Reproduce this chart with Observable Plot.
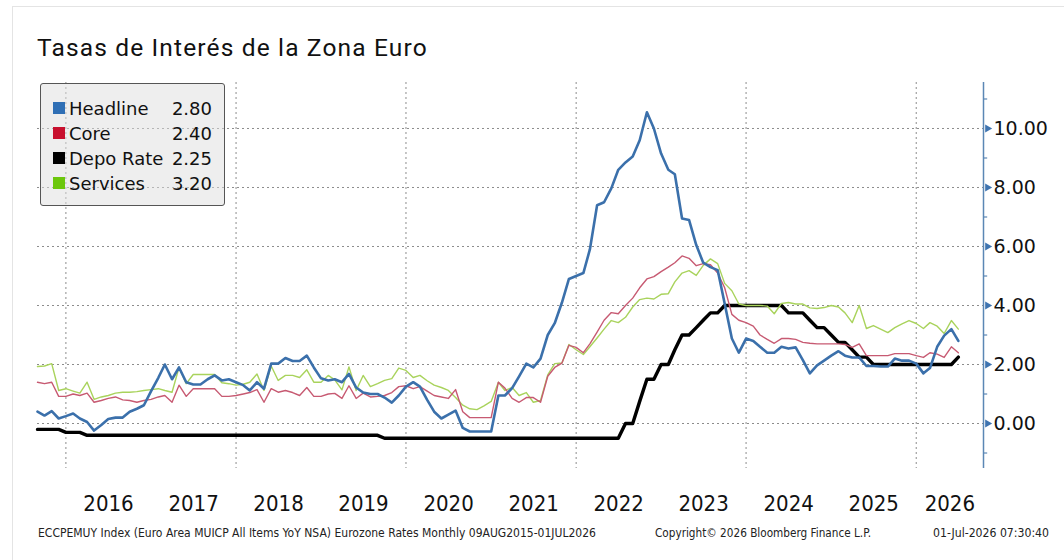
<!DOCTYPE html>
<html>
<head>
<meta charset="utf-8">
<script src="https://cdn.jsdelivr.net/npm/d3@7"></script>
<script src="https://cdn.jsdelivr.net/npm/@observablehq/plot@0.6"></script>
<style>
  body { margin: 0; background: #fff; }
  #wrap { position: relative; width: 1064px; height: 560px; overflow: hidden; background: #fff; }
  #card { position: absolute; left: 12px; top: 6px; width: 1070px; height: 600px;
          border-left: 1px solid #e4e4e4; border-top: 1px solid #e4e4e4; }
  #title { position: absolute; left: 37px; top: 36px; font-family: Roboto, sans-serif; font-size: 24.5px;
           letter-spacing: 1.15px; line-height: 24px; color: #111; white-space: nowrap; }
  #chart { position: absolute; left: 0; top: 0; }
  #legend { position: absolute; left: 40px; top: 83px; width: 183px; height: 121px;
            background: rgba(222,222,222,0.5); border: 1px solid #555; border-radius: 3px;
            font-family: "DejaVu Sans", sans-serif; font-size: 18px; color: #111; }
  .row { position: absolute; left: 0; width: 183px; height: 25px; line-height: 25px; }
  .sw { position: absolute; left: 12px; top: 6px; width: 12px; height: 12px; }
  .lab { position: absolute; left: 28px; top: 0; white-space: nowrap; }
  .val { position: absolute; right: 12px; top: 0; }
  #footer { position: absolute; left: 0; top: 0; }
</style>
</head>
<body>
<div id="wrap">
  <div id="card"></div>
  <div id="chart"></div>
  <div id="title"></div>
  <div id="legend"></div>
  <svg id="footer" width="1064" height="560"></svg>
</div>
<script>
// ---- Data (monthly, Sep 2015 .. Jul 2026) ----
const titleText = "Tasas de Interés de la Zona Euro";

const headline = [
  0.40, 0.27, 0.42, 0.17,
  0.25, 0.34, 0.17, 0.05, -0.24, -0.05, 0.15, 0.20, 0.20, 0.40, 0.50, 0.62,
  1.10, 1.55, 2.00, 1.50, 1.90, 1.40, 1.32, 1.32, 1.50, 1.63, 1.46, 1.50,
  1.40, 1.30, 1.12, 1.40, 1.18, 2.03, 2.03, 2.22, 2.12, 2.12, 2.30, 1.90,
  1.53, 1.46, 1.50, 1.40, 1.68, 1.22, 1.05, 1.00, 1.00, 0.88, 0.71, 0.95,
  1.25, 1.40, 1.25, 0.80, 0.40, 0.17, 0.30, 0.44, -0.15, -0.27, -0.27, -0.27,
  -0.27, 0.95, 0.95, 1.20, 1.60, 2.03, 1.90, 2.20, 3.00, 3.40, 4.10, 4.90,
  5.00, 5.10, 5.90, 7.40, 7.50, 7.97, 8.60, 8.85, 9.05, 9.60, 10.55, 10.00,
  9.15, 8.60, 8.45, 6.95, 6.90, 6.05, 5.45, 5.30, 5.20, 4.07, 2.88, 2.40,
  2.88, 2.80, 2.60, 2.40, 2.40, 2.60, 2.54, 2.58, 2.15, 1.70, 1.97, 2.13,
  2.30, 2.45, 2.30, 2.24, 2.24, 1.95, 1.95, 1.93, 1.93, 2.20, 2.13, 2.13,
  2.03, 1.70, 1.88, 2.60, 2.98, 3.20, 2.80
];

const core = [
  1.40, 1.35, 1.40, 0.92,
  0.92, 1.00, 0.95, 1.03, 0.72, 0.78, 0.85, 0.90, 0.80, 0.78, 0.72, 0.78,
  0.82, 0.90, 0.95, 0.72, 1.30, 0.92, 1.18, 1.18, 1.18, 1.18, 0.92, 0.92,
  0.95, 1.00, 1.05, 1.15, 0.72, 1.18, 1.06, 1.12, 1.05, 0.95, 1.22, 0.92,
  0.92, 1.00, 1.02, 0.85, 1.28, 0.85, 1.03, 0.90, 0.92, 0.95, 1.05, 1.25,
  1.28, 1.18, 1.25, 1.10, 0.95, 0.90, 0.85, 1.15, 0.40, 0.20, 0.20, 0.20,
  0.20, 1.40, 1.20, 0.85, 0.72, 0.88, 0.88, 0.72, 1.60, 1.90, 2.05, 2.65,
  2.58, 2.40, 2.70, 3.10, 3.50, 3.76, 3.72, 4.00, 4.25, 4.60, 4.90, 4.98,
  5.15, 5.30, 5.45, 5.68, 5.60, 5.35, 5.42, 5.38, 5.10, 4.60, 3.70, 3.50,
  3.42, 3.30, 3.00, 2.85, 2.72, 2.88, 2.88, 2.85, 2.75, 2.72, 2.70, 2.70,
  2.70, 2.70, 2.68, 2.58, 2.70, 2.30, 2.30, 2.30, 2.30, 2.37, 2.37, 2.37,
  2.30, 2.24, 2.40, 2.35, 2.24, 2.60, 2.40
];

const depoRate = [
  -0.20, -0.20, -0.20, -0.20,
  -0.30, -0.30, -0.30, -0.40, -0.40, -0.40, -0.40, -0.40, -0.40, -0.40, -0.40, -0.40,
  -0.40, -0.40, -0.40, -0.40, -0.40, -0.40, -0.40, -0.40, -0.40, -0.40, -0.40, -0.40,
  -0.40, -0.40, -0.40, -0.40, -0.40, -0.40, -0.40, -0.40, -0.40, -0.40, -0.40, -0.40,
  -0.40, -0.40, -0.40, -0.40, -0.40, -0.40, -0.40, -0.40, -0.40, -0.50, -0.50, -0.50,
  -0.50, -0.50, -0.50, -0.50, -0.50, -0.50, -0.50, -0.50, -0.50, -0.50, -0.50, -0.50,
  -0.50, -0.50, -0.50, -0.50, -0.50, -0.50, -0.50, -0.50, -0.50, -0.50, -0.50, -0.50,
  -0.50, -0.50, -0.50, -0.50, -0.50, -0.50, -0.50, 0.00, 0.00, 0.75, 1.50, 1.50,
  2.00, 2.00, 2.50, 3.00, 3.00, 3.25, 3.50, 3.75, 3.75, 4.00, 4.00, 4.00,
  4.00, 4.00, 4.00, 4.00, 4.00, 4.00, 3.75, 3.75, 3.75, 3.50, 3.25, 3.25,
  3.00, 2.75, 2.75, 2.50, 2.25, 2.25, 2.00, 2.00, 2.00, 2.00, 2.00, 2.00,
  2.00, 2.00, 2.00, 2.00, 2.00, 2.00, 2.25
];

const services = [
  1.93, 1.95, 2.03, 1.12,
  1.18, 1.10, 1.03, 1.40, 0.82, 0.90, 0.95, 1.03, 1.06, 1.06, 1.08, 1.12,
  1.15, 1.18, 1.12, 1.06, 1.90, 1.35, 1.66, 1.66, 1.66, 1.66, 1.38, 1.35,
  1.30, 1.33, 1.40, 1.68, 1.12, 1.95, 1.46, 1.63, 1.63, 1.56, 1.82, 1.40,
  1.40, 1.63, 1.48, 1.14, 1.92, 1.12, 1.63, 1.25, 1.35, 1.46, 1.52, 1.88,
  1.80, 1.56, 1.63, 1.45, 1.30, 1.22, 1.12, 0.88, 0.62, 0.50, 0.47, 0.60,
  0.75, 1.40, 1.12, 1.22, 0.95, 1.05, 0.72, 0.78, 1.65, 2.03, 2.05, 2.68,
  2.50, 2.34, 2.60, 2.90, 3.20, 3.49, 3.42, 3.60, 3.95, 4.20, 4.25, 4.22,
  4.38, 4.40, 4.80, 5.10, 5.18, 5.02, 5.36, 5.58, 5.42, 4.75, 4.50, 4.05,
  4.00, 4.00, 4.00, 3.98, 3.72, 4.07, 4.10, 4.05, 4.05, 3.92, 3.90, 3.93,
  4.00, 3.95, 3.75, 3.42, 4.00, 3.22, 3.32, 3.20, 3.08, 3.25, 3.38, 3.49,
  3.39, 3.22, 3.42, 3.30, 3.05, 3.49, 3.20
];

const seriesNames = ["Headline", "Core", "Depo Rate", "Services"];
const legendValues = ["2.80", "2.40", "2.25", "3.20"];
const lineColors = ["#3b70ab", "#c75a72", "#000000", "#a9d35c"];
const swatchColors = ["#2f6fb5", "#c8102e", "#000000", "#6cc70c"];
const lineWidths = [2.6, 1.4, 3.4, 1.4];

const yTicks = [0, 2, 4, 6, 8, 10];
const yMinorTicks = [-1, 1, 3, 5, 7, 9, 11];
const yearLabels = [2016, 2017, 2018, 2019, 2020, 2021, 2022, 2023, 2024, 2025, 2026];
const gridYears = [2016, 2018, 2020, 2022, 2024, 2026];

const footLeft = "ECCPEMUY Index (Euro Area MUICP All Items YoY NSA) Eurozone Rates Monthly 09AUG2015-01JUL2026";
const footMid = "Copyright\u00A9 2026 Bloomberg Finance L.P.";
const footRight = "01-Jul-2026 07:30:40";

// ---- Build table ----
const dates = d3.utcMonth.range(new Date(Date.UTC(2015, 8, 1)), new Date(Date.UTC(2026, 7, 1)));
const seriesValues = [headline, core, depoRate, services];
const rows = [];
seriesNames.forEach((name, i) => {
  dates.forEach((d, j) => rows.push({ date: d, value: seriesValues[i][j], series: name }));
});

const xStart = new Date(Date.UTC(2015, 8, 1));
const xEnd = new Date(Date.UTC(2026, 9, 17));
const tickEnd = new Date(Date.UTC(2026, 10, 4));
const years = yearLabels.map(y => {
  const a = Math.max(+new Date(Date.UTC(y, 0, 1)), +xStart);
  const b = Math.min(+new Date(Date.UTC(y + 1, 0, 1)), +xEnd);
  return { label: String(y), mid: new Date((a + b) / 2) };
});
const gridDates = gridYears.map(y => new Date(Date.UTC(y, 0, 1)));

const lineMark = (name) => {
  const i = seriesNames.indexOf(name);
  return Plot.line(rows.filter(r => r.series === name), {
    x: "date", y: "value", stroke: lineColors[i], strokeWidth: lineWidths[i],
    strokeLinejoin: "round", strokeLinecap: "round"
  });
};

const axisColor = "#5b87b5";
const chart = Plot.plot({
  width: 1064, height: 560,
  marginLeft: 37, marginRight: 81, marginTop: 82, marginBottom: 92,
  style: { background: "transparent", fontFamily: "DejaVu Sans, sans-serif", overflow: "visible" },
  x: { type: "utc", domain: [xStart, xEnd], axis: null },
  y: { domain: [-1.525, 11.559], axis: null },
  marks: [
    Plot.ruleY(yTicks, { stroke: "#8c8c8c", strokeWidth: 1, strokeDasharray: "2,3" }),
    Plot.ruleX(gridDates, { stroke: "#8c8c8c", strokeWidth: 1, strokeDasharray: "2,3" }),
    lineMark("Depo Rate"),
    lineMark("Services"),
    lineMark("Core"),
    lineMark("Headline"),
    Plot.ruleX([xEnd], { stroke: axisColor, strokeWidth: 1.5 }),
    Plot.ruleY(yMinorTicks, { x1: () => xEnd, x2: () => tickEnd, stroke: axisColor, strokeWidth: 1.2 }),
    Plot.dot(yTicks, { x: () => xEnd, y: d => d, symbol: "triangle", r: 3, rotate: 90, fill: "#3f74b0", stroke: "none", dx: 4 }),
    Plot.text(yTicks, { x: () => xEnd, y: d => d, text: d => d.toFixed(2), textAnchor: "start", dx: 10,
      fontSize: 19, fill: "#111", fontFamily: "DejaVu Sans" }),
    Plot.text(years, { x: "mid", text: "label", frameAnchor: "bottom", dy: 42, fontSize: 22,
      fill: "#111", fontFamily: "DejaVu Sans Condensed" })
  ]
});
document.getElementById("chart").appendChild(chart);

document.getElementById("title").textContent = titleText;

// legend
const legend = document.getElementById("legend");
seriesNames.forEach((name, i) => {
  const row = document.createElement("div");
  row.className = "row";
  row.style.top = (12 + i * 25) + "px";
  row.innerHTML = `<div class="sw" style="background:${swatchColors[i]}"></div>` +
    `<span class="lab">${name}</span><span class="val">${legendValues[i]}</span>`;
  legend.appendChild(row);
});

// footer
const fsvg = d3.select("#footer");
const foot = [
  { t: footLeft, x: 38, len: 558 },
  { t: footMid, x: 655, len: 216 },
  { t: footRight, x: 933, len: 116 }
];
fsvg.selectAll("text").data(foot).join("text")
  .attr("x", d => d.x).attr("y", 537)
  .attr("textLength", d => d.len).attr("lengthAdjust", "spacingAndGlyphs")
  .attr("font-family", "DejaVu Sans Condensed").attr("font-size", 11.5).attr("fill", "#222")
  .text(d => d.t);
</script>
</body>
</html>
